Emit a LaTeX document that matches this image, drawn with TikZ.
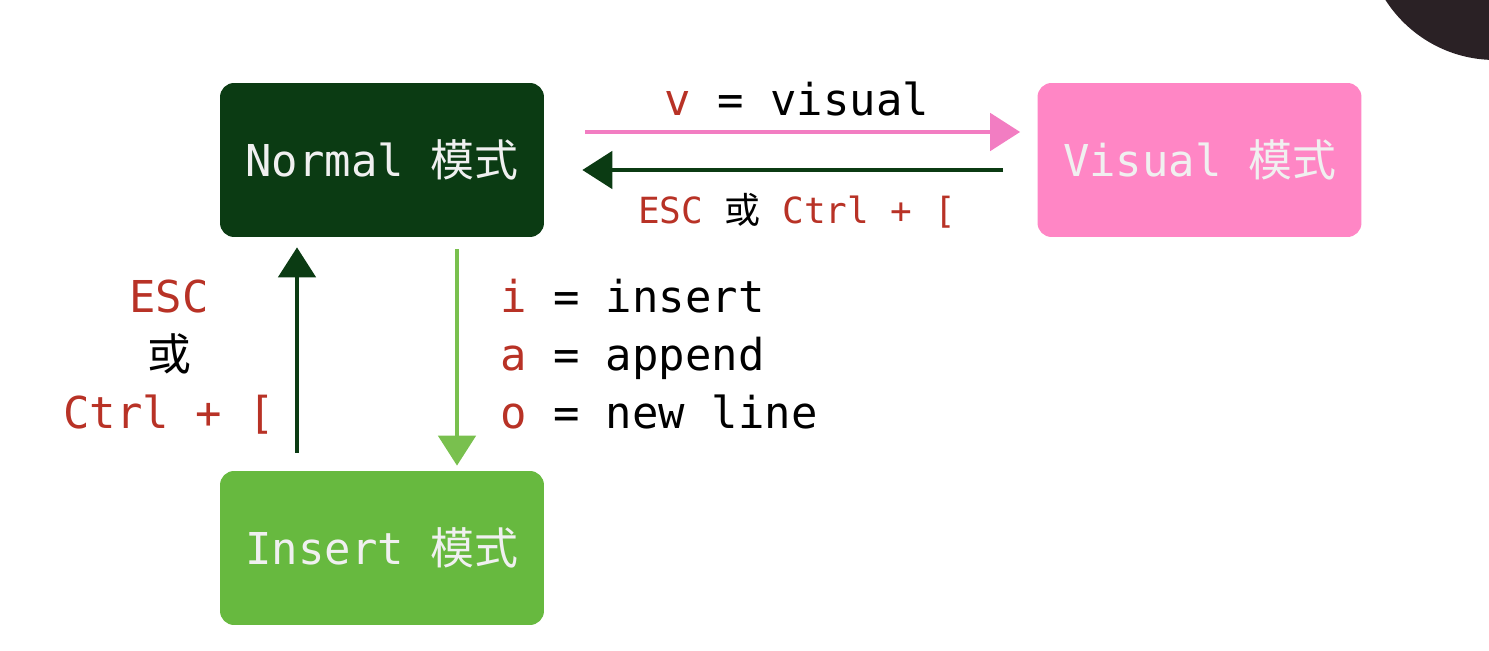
\documentclass[tikz,border=0pt]{standalone}
\usepackage{fontspec}
\setmonofont{DejaVu Sans Mono}
\newfontfamily\cjk{Noto Sans CJK SC}
\usepackage{xcolor}
\usepackage{tikz}
\usetikzlibrary{arrows.meta,positioning,calc}

\definecolor{normalgreen}{HTML}{0B3B13}
\definecolor{visualpink}{HTML}{FF86C5}
\definecolor{insertgreen}{HTML}{67B93F}
\definecolor{keyred}{HTML}{B83226}
\definecolor{arrowpink}{HTML}{F27DC2}
\definecolor{arrowgreen}{HTML}{79C04E}
\definecolor{darkbg}{HTML}{2A2125}

\newcommand{\keyc}[1]{\textcolor{keyred}{#1}}
\newcommand{\moshi}{{\cjk 模式}}
\newcommand{\huo}{{\cjk 或}}

\tikzset{
	modebox/.style={rounded corners=0.28cm, minimum width=6.48cm, minimum height=3.08cm,
		text=white!94!black, font=\ttfamily\fontsize{25}{30}\selectfont},
	keytext/.style={font=\ttfamily\fontsize{25}{33}\selectfont},
	smallkey/.style={font=\ttfamily\fontsize{20.5}{25}\selectfont},
	modearrow/.style={line width=2.8pt, -{Triangle[length=0.6cm,width=0.74cm]}}
}

\begin{document}
\begin{tikzpicture}[x=0.02cm,y=-0.02cm]
		\useasboundingbox (0,0) rectangle (1489,651);
		\fill[darkbg] (1495,-70) circle (2.6cm);

		% the three modes
		\node[modebox, fill=normalgreen] (normal) at (382,160) {Normal \moshi};
		\node[modebox, fill=visualpink] (visual) at (1199.5,160) {Visual \moshi};
		\node[modebox, fill=insertgreen] (insert) at (382,548) {Insert \moshi};

		% normal <-> visual
		\draw[modearrow, arrowpink, shorten <=0.82cm, shorten >=0.34cm]
			($(normal.east)+(0,-28)$) -- ($(visual.west)+(0,-28)$);
		\draw[modearrow, normalgreen, shorten <=0.68cm, shorten >=0.76cm]
			($(visual.west)+(0,10)$) -- ($(normal.east)+(0,10)$);
		\node[keytext] (vkey) at (797,99) {\keyc{v} = visual};
		\node[smallkey] (esckey) at (797,211) {\keyc{ESC} \huo{} \keyc{Ctrl + [}};

		% normal <-> insert
		\draw[modearrow, normalgreen, shorten <=0.36cm, shorten >=0.2cm]
			($(insert.north)+(-85,0)$) -- ($(normal.south)+(-85,0)$);
		\draw[modearrow, arrowgreen, shorten <=0.24cm, shorten >=0.1cm]
			($(normal.south)+(75,0)$) -- ($(insert.north)+(75,0)$);
		\node[keytext, align=center] (backkey) at (169,357) {\keyc{ESC}\\\huo\\\keyc{Ctrl + [}};
		\node[keytext, align=left, anchor=west] (inskey) at (494,354)
			{\keyc{i} = insert\\\keyc{a} = append\\\keyc{o} = new line};
	\end{tikzpicture}
\end{document}
